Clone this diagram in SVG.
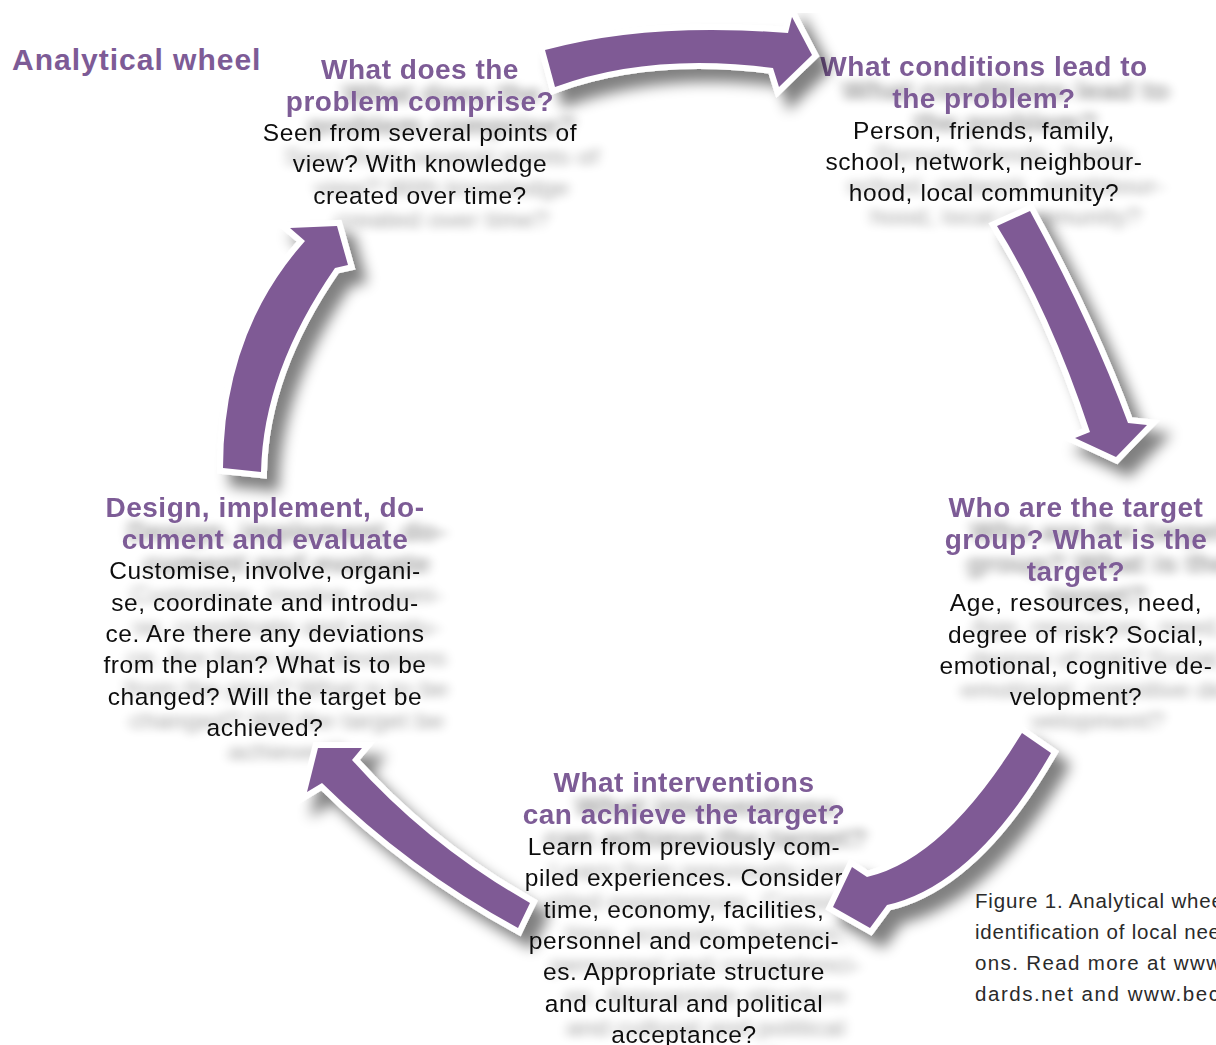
<svg xmlns="http://www.w3.org/2000/svg" width="1216" height="1045" viewBox="0 0 1216 1045">
  <defs>
    <style>
      .title { font-family: "Liberation Sans", Arial, sans-serif; font-weight: bold; font-size: 30px; fill: #7d5b96; letter-spacing: 1px; }
      .hd { font-family: "Liberation Sans", Arial, sans-serif; font-weight: bold; font-size: 28px; fill: #7d5b96; text-anchor: middle; letter-spacing: 0.5px; }
      .bd { font-family: "Liberation Sans", Arial, sans-serif; font-size: 24.5px; fill: #111; text-anchor: middle; letter-spacing: 0.6px; }
      .cap { font-family: "Liberation Sans", Arial, sans-serif; font-size: 20.5px; fill: #2a2a2a; }
      .arrow { fill: #7f5a95; stroke: #ffffff; stroke-width: 12; stroke-linejoin: miter; stroke-miterlimit: 10; paint-order: stroke; }
    </style>
    <!-- soft grey shadow cast by each text block -->
    <filter id="textShadow" filterUnits="userSpaceOnUse" x="0" y="0" width="1216" height="1045">
      <feGaussianBlur in="SourceAlpha" stdDeviation="6 4.5"/>
      <feOffset dx="22" dy="24"/>
      <feComponentTransfer><feFuncA type="linear" slope="0.38"/></feComponentTransfer>
      <feMerge><feMergeNode/><feMergeNode in="SourceGraphic"/></feMerge>
    </filter>
    <!-- drop shadow under the outlined arrows -->
    <filter id="arrowShadow" filterUnits="userSpaceOnUse" x="0" y="0" width="1216" height="1045">
      <feGaussianBlur in="SourceAlpha" stdDeviation="7"/>
      <feOffset dx="12" dy="13"/>
      <feComponentTransfer><feFuncA type="linear" slope="0.5"/></feComponentTransfer>
      <feMerge><feMergeNode/><feMergeNode in="SourceGraphic"/></feMerge>
    </filter>
  </defs>

  <rect width="1216" height="1045" fill="#ffffff"/>

  <text class="title" x="12" y="70">Analytical wheel</text>

  <g id="node-problem" filter="url(#textShadow)">
    <text class="hd" x="420" y="79">What does the</text>
    <text class="hd" x="420" y="111">problem comprise?</text>
    <text class="bd" x="420" y="141">Seen from several points of</text>
    <text class="bd" x="420" y="172">view? With knowledge</text>
    <text class="bd" x="420" y="204">created over time?</text>
  </g>

  <g id="node-conditions" filter="url(#textShadow)">
    <text class="hd" x="984" y="76">What conditions lead to</text>
    <text class="hd" x="984" y="108">the problem?</text>
    <text class="bd" x="984" y="139">Person, friends, family,</text>
    <text class="bd" x="984" y="170">school, network, neighbour-</text>
    <text class="bd" x="984" y="201">hood, local community?</text>
  </g>

  <g id="node-target" filter="url(#textShadow)">
    <text class="hd" x="1076" y="517">Who are the target</text>
    <text class="hd" x="1076" y="549">group? What is the</text>
    <text class="hd" x="1076" y="581">target?</text>
    <text class="bd" x="1076" y="611">Age, resources, need,</text>
    <text class="bd" x="1076" y="643">degree of risk? Social,</text>
    <text class="bd" x="1076" y="674">emotional, cognitive de-</text>
    <text class="bd" x="1076" y="705">velopment?</text>
  </g>

  <g id="node-design" filter="url(#textShadow)">
    <text class="hd" x="265" y="517">Design, implement, do-</text>
    <text class="hd" x="265" y="549">cument and evaluate</text>
    <text class="bd" x="265" y="579">Customise, involve, organi-</text>
    <text class="bd" x="265" y="611">se, coordinate and introdu-</text>
    <text class="bd" x="265" y="642">ce. Are there any deviations</text>
    <text class="bd" x="265" y="673">from the plan? What is to be</text>
    <text class="bd" x="265" y="705">changed?  Will the target be</text>
    <text class="bd" x="265" y="736">achieved?</text>
  </g>

  <g id="node-interventions" filter="url(#textShadow)">
    <text class="hd" x="684" y="792">What interventions</text>
    <text class="hd" x="684" y="824">can achieve the target?</text>
    <text class="bd" x="684" y="855">Learn from previously com-</text>
    <text class="bd" x="684" y="886">piled experiences. Consider</text>
    <text class="bd" x="684" y="918">time, economy, facilities,</text>
    <text class="bd" x="684" y="949">personnel and competenci-</text>
    <text class="bd" x="684" y="980">es. Appropriate structure</text>
    <text class="bd" x="684" y="1012">and cultural and political</text>
    <text class="bd" x="684" y="1043">acceptance?</text>
  </g>

  <!-- curved block arrows linking the five steps, clockwise -->
  <g id="connectors" filter="url(#arrowShadow)">
    <path class="arrow" d="M545,50 Q647,22 788,33 L792,17 L812,55 L779,87 L773,68 Q650,52 555,87 Z"/>
    <path class="arrow" d="M1030,211 Q1091,323 1128,423 L1147,425 L1116,457 L1075,438 L1090,432 Q1050,311 997,226 Z"/>
    <path class="arrow" d="M1051,753 Q975,885 887,905 L870,928 L833,907 L852,867 L867,877 Q945,859 1022,733 Z"/>
    <path class="arrow" d="M530,903 Q429,846 352,760 L362,748 L318,748 L307,792 L322,783 Q408,868 518,928 Z"/>
    <path class="arrow" d="M223,468 Q223,333 305,241 L290,228 L337,226 L348,265 L335,268 Q263,372 261,472 Z"/>
  </g>

  <g id="caption">
    <text class="cap" x="975" y="908" textLength="248" lengthAdjust="spacing">Figure 1. Analytical whee</text>
    <text class="cap" x="975" y="939" textLength="245" lengthAdjust="spacing">identification of local nee</text>
    <text class="cap" x="975" y="970" textLength="246" lengthAdjust="spacing">ons. Read more at www</text>
    <text class="cap" x="975" y="1001" textLength="244" lengthAdjust="spacing">dards.net and www.bec</text>
  </g>
</svg>
